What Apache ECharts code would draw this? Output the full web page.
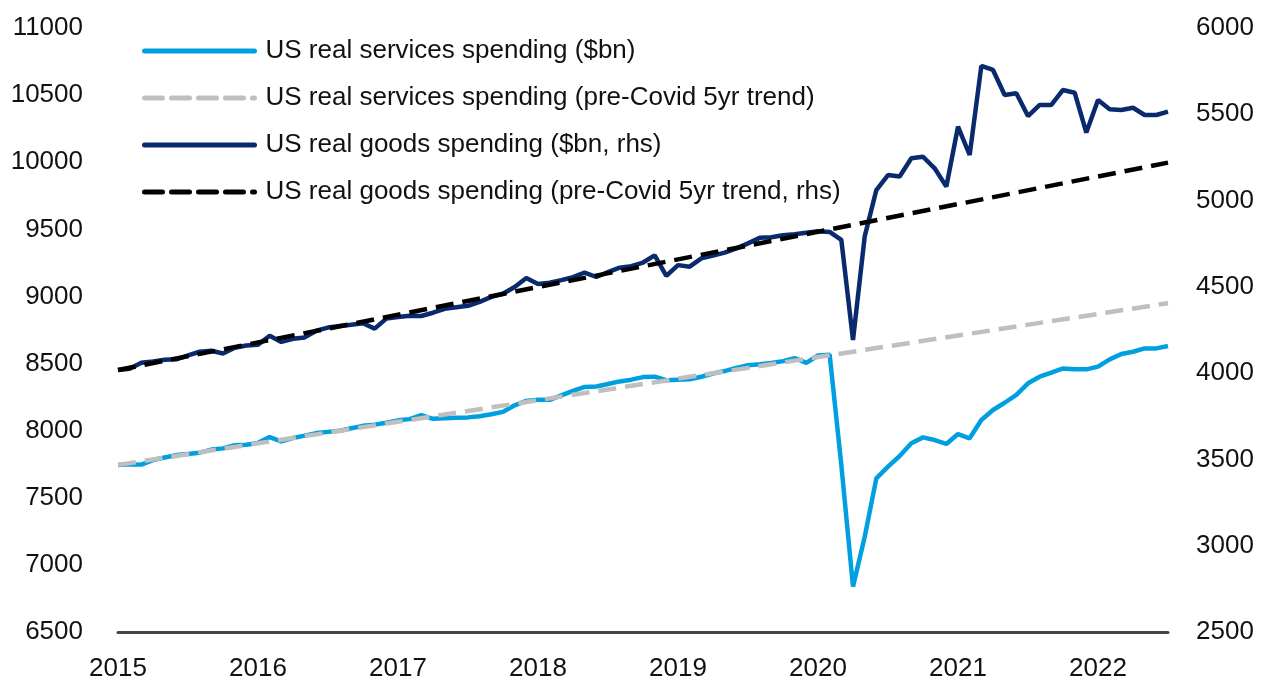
<!DOCTYPE html>
<html>
<head>
<meta charset="utf-8">
<script src="https://cdn.jsdelivr.net/npm/echarts@6/dist/echarts.min.js"></script>
<style>
  html, body { margin: 0; padding: 0; background: #fff; }
  #chart { width: 1261px; height: 683px; }
</style>
</head>
<body>
<div id="chart"></div>
<script>
// monthly categories, Jan 2015 .. Jul 2022
const startYear = 2015;
const monthCount = 91;
const months = [];
for (let i = 0; i < monthCount; i++) {
  const y = startYear + Math.floor(i / 12);
  const m = (i % 12) + 1;
  months.push(y + '-' + (m < 10 ? '0' + m : m));
}

// US real services spending ($bn), lhs
const servicesSpending = [
  7745, 7749, 7747, 7781, 7800, 7818, 7827, 7836, 7859, 7868,
  7891, 7895, 7909, 7952, 7921, 7945, 7963, 7982, 7991, 7999,
  8018, 8036, 8045, 8059, 8077, 8086, 8115, 8088, 8092, 8096,
  8099, 8108, 8122, 8140, 8189, 8222, 8231, 8230, 8263, 8297,
  8326, 8329, 8348, 8367, 8380, 8399, 8402, 8376, 8380, 8383,
  8402, 8426, 8444, 8468, 8487, 8495, 8504, 8518, 8540, 8505,
  8560, 8565, 7744, 6838, 7208, 7645, 7732, 7811, 7906, 7950,
  7930, 7901, 7975, 7943, 8079, 8154, 8208, 8266, 8353, 8402,
  8432, 8464, 8457, 8457, 8477, 8531, 8571, 8588, 8613, 8613,
  8631
];

// US real goods spending ($bn), rhs
const goodsSpending = [
  4018, 4026, 4060, 4068, 4077, 4080, 4103, 4124, 4130, 4114,
  4147, 4160, 4164, 4217, 4181, 4199, 4207, 4246, 4264, 4273,
  4281, 4289, 4258, 4316, 4325, 4333, 4331, 4350, 4373, 4382,
  4390, 4413, 4442, 4460, 4499, 4551, 4517, 4524, 4539, 4556,
  4583, 4557, 4586, 4611, 4620, 4641, 4682, 4564, 4626, 4617,
  4665, 4681, 4698, 4723, 4752, 4784, 4788, 4799, 4805, 4814,
  4822, 4818, 4772, 4192, 4791, 5061, 5148, 5139, 5245, 5254,
  5187, 5081, 5428, 5264, 5780, 5757, 5612, 5622, 5490, 5554,
  5554, 5641, 5625, 5394, 5583, 5529, 5525, 5538, 5496, 5496,
  5515
];

// pre-Covid 5yr trends (straight lines, start and end points)
const servicesTrend = [['2015-01', 7745], ['2022-07', 8950]];
const goodsTrend = [['2015-01', 4018], ['2022-07', 5220]];

const names = [
  'US real services spending ($bn)',
  'US real services spending (pre-Covid 5yr trend)',
  'US real goods spending ($bn, rhs)',
  'US real goods spending (pre-Covid 5yr trend, rhs)'
];

const font = "'Liberation Sans', Arial, sans-serif";
const labelStyle = { fontFamily: font, fontSize: 26, color: '#111' };

const chart = echarts.init(document.getElementById('chart'));
chart.setOption({
  animation: false,
  color: ['#00A0E0', '#0A2A6E', '#BFBFBF', '#000000'],
  grid: { left: 118, right: 93, top: 28, bottom: 51, containLabel: false },
  legend: {
    data: names,
    orient: 'vertical',
    left: 137,
    top: 33,
    itemWidth: 110,
    itemHeight: 30,
    itemGap: 21,
    itemStyle: { opacity: 0 },
    lineStyle: { width: 5, cap: 'round' },
    textStyle: { fontFamily: font, fontSize: 26, color: '#111', padding: [0, 0, 0, 6] }
  },
  xAxis: {
    type: 'category',
    data: months,
    boundaryGap: false,
    axisLine: { lineStyle: { color: '#444', width: 3 } },
    axisTick: { show: false },
    axisLabel: Object.assign({
      margin: 24,
      interval: (i) => i % 12 === 0,
      formatter: (v) => v.slice(0, 4)
    }, labelStyle),
    splitLine: { show: false }
  },
  yAxis: [
    {
      type: 'value', min: 6500, max: 11000, interval: 500,
      axisLine: { show: false }, axisTick: { show: false },
      splitLine: { show: false },
      axisLabel: Object.assign({ margin: 35, formatter: (v) => String(v) }, labelStyle)
    },
    {
      type: 'value', min: 2500, max: 6000, interval: 500,
      axisLine: { show: false }, axisTick: { show: false },
      splitLine: { show: false },
      axisLabel: Object.assign({ margin: 28, formatter: (v) => String(v) }, labelStyle)
    }
  ],
  series: [
    {
      name: names[0], type: 'line', yAxisIndex: 0, data: servicesSpending,
      symbol: 'none', lineStyle: { width: 4.5, color: '#00A0E0' }
    },
    {
      name: names[2], type: 'line', yAxisIndex: 1, data: goodsSpending,
      symbol: 'none', lineStyle: { width: 4.5, color: '#0A2A6E' }
    },
    {
      name: names[1], type: 'line', yAxisIndex: 0, data: servicesTrend,
      symbol: 'none', lineStyle: { width: 4.5, color: '#BFBFBF', type: [18, 9] }
    },
    {
      name: names[3], type: 'line', yAxisIndex: 1, data: goodsTrend,
      symbol: 'none', lineStyle: { width: 4.5, color: '#000000', type: [18, 9] }
    }
  ]
});
</script>
</body>
</html>
